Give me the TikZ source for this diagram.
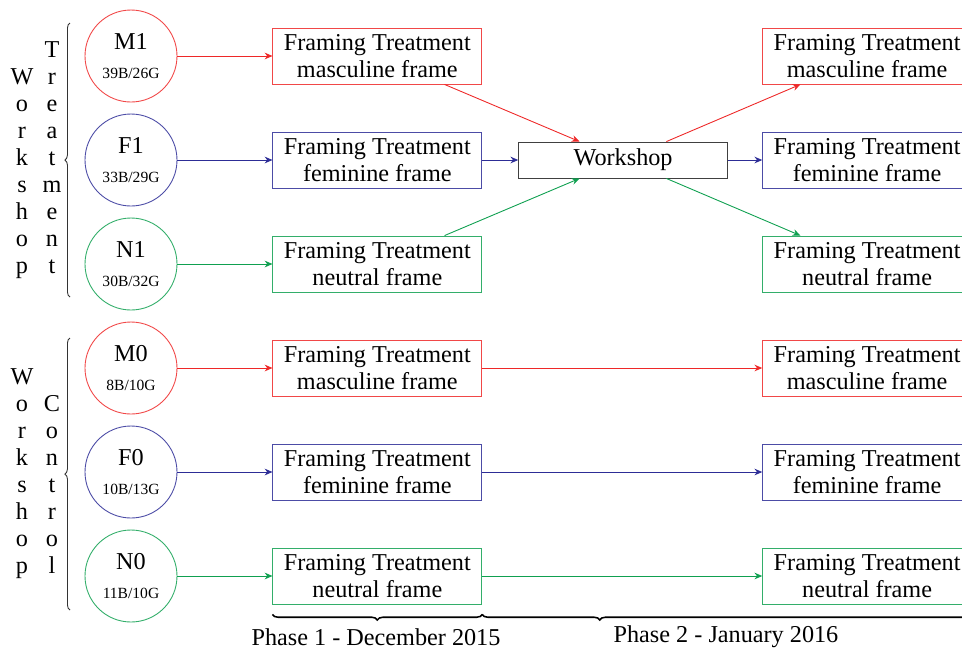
\documentclass[tikz,border=0pt]{standalone}
\usepackage{fontspec}
\setmainfont{Liberation Serif}
\usetikzlibrary{arrows.meta, positioning, decorations.pathreplacing}

\definecolor{mascred}{RGB}{238,40,40}
\definecolor{feminblue}{RGB}{45,45,150}
\definecolor{neutgreen}{RGB}{15,160,80}

\newcommand{\maintext}{\fontsize{10.9}{12.15}\selectfont}
\newcommand{\counttext}{\fontsize{7}{8}\selectfont}

\begin{document}
\begin{tikzpicture}[
    x=0.45pt, y=-0.45pt,
    font=\maintext,
    group/.style={
      draw, circle, line width=0.4pt,
      minimum size=41.4pt, inner sep=0pt, align=center
    },
    treat/.style={
      draw, line width=0.4pt,
      minimum width=94pt, minimum height=25.2pt,
      align=center, inner sep=1pt
    },
    wsbox/.style={
      draw=black!75, line width=0.4pt,
      minimum width=94pt, minimum height=16.2pt, inner sep=1pt
    },
    vlabel/.style={align=center, anchor=south, inner sep=0pt, text depth=0pt},
    arr/.style={-{Stealth[length=3.5pt, width=3pt]}, line width=0.4pt},
    sidebrace/.style={decorate, decoration={brace, amplitude=2.3pt}, line width=0.4pt, black!80},
    phasebrace/.style={decorate, decoration={brace, mirror, amplitude=2.5pt}, line width=0.7pt}
  ]
  \useasboundingbox (0,0) rectangle (962,655);

  % ===== Workshop treatment group =====
  \node[group, draw=mascred!85]   (M1) at (131,56)  {M1\\[1pt]{\counttext 39B/26G}};
  \node[group, draw=feminblue!85] (F1) at (131,160) {F1\\[1pt]{\counttext 33B/29G}};
  \node[group, draw=neutgreen!85] (N1) at (131,264) {N1\\[1pt]{\counttext 30B/32G}};

  \node[treat, draw=mascred!85, right=42.75pt of M1]   (M1a) {Framing Treatment\\masculine frame};
  \node[treat, draw=feminblue!85, right=42.75pt of F1] (F1a) {Framing Treatment\\feminine frame};
  \node[treat, draw=neutgreen!85, right=42.75pt of N1] (N1a) {Framing Treatment\\neutral frame};

  \node[wsbox, right=16.2pt of F1a] (ws) {Workshop};

  \node[treat, draw=mascred!85, right=126pt of M1a]   (M1b) {Framing Treatment\\masculine frame};
  \node[treat, draw=feminblue!85, right=126pt of F1a] (F1b) {Framing Treatment\\feminine frame};
  \node[treat, draw=neutgreen!85, right=126pt of N1a] (N1b) {Framing Treatment\\neutral frame};

  \draw[arr, mascred]   (M1) -- (M1a);
  \draw[arr, feminblue] (F1) -- (F1a);
  \draw[arr, neutgreen] (N1) -- (N1a);
  \draw[arr, mascred]   (M1a) -- (ws);
  \draw[arr, feminblue] (F1a) -- (ws);
  \draw[arr, neutgreen] (N1a) -- (ws);
  \draw[arr, mascred]   (ws) -- (M1b);
  \draw[arr, feminblue] (ws) -- (F1b);
  \draw[arr, neutgreen] (ws) -- (N1b);

  % ===== Workshop control group =====
  \node[group, draw=mascred!85]   (M0) at (131,368) {M0\\[1pt]{\counttext 8B/10G}};
  \node[group, draw=feminblue!85] (F0) at (131,472) {F0\\[1pt]{\counttext 10B/13G}};
  \node[group, draw=neutgreen!85] (N0) at (131,576) {N0\\[1pt]{\counttext 11B/10G}};

  \node[treat, draw=mascred!85, right=42.75pt of M0]   (M0a) {Framing Treatment\\masculine frame};
  \node[treat, draw=feminblue!85, right=42.75pt of F0] (F0a) {Framing Treatment\\feminine frame};
  \node[treat, draw=neutgreen!85, right=42.75pt of N0] (N0a) {Framing Treatment\\neutral frame};

  \node[treat, draw=mascred!85, right=126pt of M0a]   (M0b) {Framing Treatment\\masculine frame};
  \node[treat, draw=feminblue!85, right=126pt of F0a] (F0b) {Framing Treatment\\feminine frame};
  \node[treat, draw=neutgreen!85, right=126pt of N0a] (N0b) {Framing Treatment\\neutral frame};

  \draw[arr, mascred]   (M0) -- (M0a);
  \draw[arr, feminblue] (F0) -- (F0a);
  \draw[arr, neutgreen] (N0) -- (N0a);
  \draw[arr, mascred]   (M0a) -- (M0b);
  \draw[arr, feminblue] (F0a) -- (F0b);
  \draw[arr, neutgreen] (N0a) -- (N0b);

  % ===== Group labels =====
  \node[vlabel] (wsT)  at (22,274) {W\\o\\r\\k\\s\\h\\o\\p};
  \node[vlabel] (trT)  at (52,274) {T\\r\\e\\a\\t\\m\\e\\n\\t};
  \node[vlabel] (wsC)  at (22,574) {W\\o\\r\\k\\s\\h\\o\\p};
  \node[vlabel] (ctrC) at (52,574) {C\\o\\n\\t\\r\\o\\l};

  \draw[sidebrace] (70,297) -- (70,23);
  \draw[sidebrace] (70,610) -- (70,338);

  % ===== Phases =====
  \coordinate (p1s) at ([yshift=-4.5pt]N0a.south west);
  \coordinate (p1e) at ([yshift=-4.5pt]N0a.south east);
  \coordinate (p2e) at ([yshift=-4.5pt]N0b.south east);
  \draw[phasebrace] (p1s) -- (p1e);
  \draw[phasebrace, decoration={aspect=0.24}] (p1e) -- (p2e);
  \node (ph1) at (376,637) {Phase 1 - December 2015};
  \node (ph2) at (726,637) {Phase 2 - January 2016};
\end{tikzpicture}
\end{document}
